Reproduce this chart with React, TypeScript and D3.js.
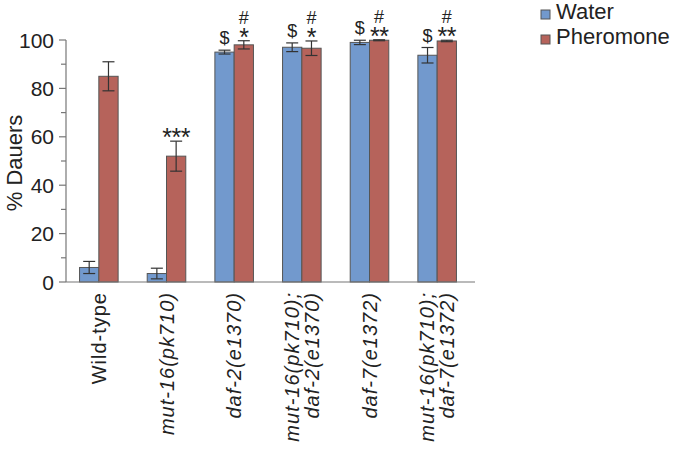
import React from "react";
import * as d3 from "d3";

const categories = [
  ["Wild-type"],
  ["mut-16(pk710)"],
  ["daf-2(e1370)"],
  ["mut-16(pk710);", "daf-2(e1370)"],
  ["daf-7(e1372)"],
  ["mut-16(pk710);", "daf-7(e1372)"],
];
const water = [6, 3.5, 95, 97, 99, 93.7];
const waterErr = [2.5, 2.2, 0.8, 1.8, 0.9, 3.2];
const pheromone = [85, 52, 98, 96.6, 99.9, 99.6];
const pheromoneErr = [6, 6.2, 1.7, 3, 0.2, 0.3];
const waterMarks = ["", "", "$", "$", "$", "$"];
const pheromoneStars = ["", "***", "*", "*", "**", "**"];
const pheromoneHash = ["", "", "#", "#", "#", "#"];
const yTicks = [0, 20, 40, 60, 80, 100];
const yMinorTicks = [10, 30, 50, 70, 90];
const seriesNames = ["Water", "Pheromone"];

const W = 677;
const H = 450;
const colors = ["#7299cd", "#b6635b"];
const font = "'Liberation Sans', Arial, Helvetica, sans-serif";

export default function App() {
  const keys = categories.map((c) => c.join(" "));
  const x = d3.scaleBand().domain(keys).range([65, 471]).paddingInner(0.43).paddingOuter(0.215);
  const xi = d3.scaleBand().domain(["w", "p"]).range([0, x.bandwidth()]);
  const y = d3.scaleLinear().domain([0, 100]).range([282, 40]);

  const groups = keys.map((k, i) => ({
    k,
    i,
    bars: [
      { key: "w", v: water[i], e: waterErr[i], c: colors[0] },
      { key: "p", v: pheromone[i], e: pheromoneErr[i], c: colors[1] },
    ],
  }));

  return (
    <div style={{ position: "absolute", left: 0, top: 0 }}>
      <svg width={W} height={H} style={{ display: "block", background: "#fff" }} fontFamily={font}>
        {/* y axis */}
        <line x1={66} x2={66} y1={y(100)} y2={y(0)} stroke="#777" strokeWidth={1.2} />
        {yTicks.map((t) => (
          <g key={t}>
            <line x1={59} x2={66} y1={y(t)} y2={y(t)} stroke="#777" strokeWidth={1.2} />
            <text x={54} y={y(t)} dy="0.36em" textAnchor="end" fontSize={21} fill="#222">
              {t}
            </text>
          </g>
        ))}
        {yMinorTicks.map((t) => (
          <line key={t} x1={61} x2={66} y1={y(t)} y2={y(t)} stroke="#777" strokeWidth={1.2} />
        ))}
        <text
          transform={`translate(22, ${163}) rotate(-90)`}
          textAnchor="middle"
          fontSize={22}
          fill="#222"
        >
          % Dauers
        </text>

        {/* bars */}
        {groups.map((g) => (
          <g key={g.k} transform={`translate(${x(g.k)},0)`}>
            {g.bars.map((b) => {
              const bx = xi(b.key)!;
              const cx = bx + xi.bandwidth() / 2;
              return (
                <g key={b.key}>
                  <rect
                    x={bx}
                    y={y(b.v)}
                    width={xi.bandwidth()}
                    height={y(0) - y(b.v)}
                    fill={b.c}
                    stroke="#555"
                    strokeWidth={1}
                  />
                  <g stroke="#333" strokeWidth={1.2}>
                    <line x1={cx} x2={cx} y1={y(b.v + b.e)} y2={y(b.v - b.e)} />
                    <line x1={cx - 6} x2={cx + 6} y1={y(b.v + b.e)} y2={y(b.v + b.e)} />
                    <line x1={cx - 6} x2={cx + 6} y1={y(b.v - b.e)} y2={y(b.v - b.e)} />
                  </g>
                </g>
              );
            })}
            {/* annotations */}
            {(() => {
              const cw = xi("w")! + xi.bandwidth() / 2;
              const cp = xi("p")! + xi.bandwidth() / 2;
              const topW = y(water[g.i] + waterErr[g.i]);
              const topP = y(pheromone[g.i] + pheromoneErr[g.i]);
              return (
                <g fill="#222">
                  {waterMarks[g.i] && (
                    <text x={cw} y={topW - 6} textAnchor="middle" fontSize={18}>
                      {waterMarks[g.i]}
                    </text>
                  )}
                  {pheromoneStars[g.i] && (
                    <text x={cp} y={topP + 5} textAnchor="middle" fontSize={25} letterSpacing={-0.5}>
                      {pheromoneStars[g.i]}
                    </text>
                  )}
                  {pheromoneHash[g.i] && (
                    <text x={cp} y={topP - 17} textAnchor="middle" fontSize={18}>
                      {pheromoneHash[g.i]}
                    </text>
                  )}
                </g>
              );
            })()}
          </g>
        ))}

        {/* x axis */}
        <line x1={66} x2={475} y1={y(0)} y2={y(0)} stroke="#777" strokeWidth={1.2} />
        {groups.map((g) => {
          const lines = categories[g.i];
          const cx = x(g.k)! + x.bandwidth() / 2;
          return (
            <g key={g.k}>
              {lines.map((l, j) => (
                <text
                  key={j}
                  transform={`translate(${cx + (j - (lines.length - 1) / 2) * 20}, 292) rotate(-90)`}
                  dy="0.36em"
                  textAnchor="end"
                  fontSize={20}
                  letterSpacing={1}
                  fontStyle={g.i === 0 ? "normal" : "italic"}
                  fill="#222"
                >
                  {l}
                </text>
              ))}
            </g>
          );
        })}

        {/* legend */}
        {seriesNames.map((s, i) => (
          <g key={s} transform={`translate(541, ${10 + i * 25})`}>
            <rect x={0} y={0} width={9} height={9} fill={colors[i]} stroke="#555" strokeWidth={1} />
            <text x={15} y={9} fontSize={22} fill="#222">
              {s}
            </text>
          </g>
        ))}
      </svg>
    </div>
  );
}
